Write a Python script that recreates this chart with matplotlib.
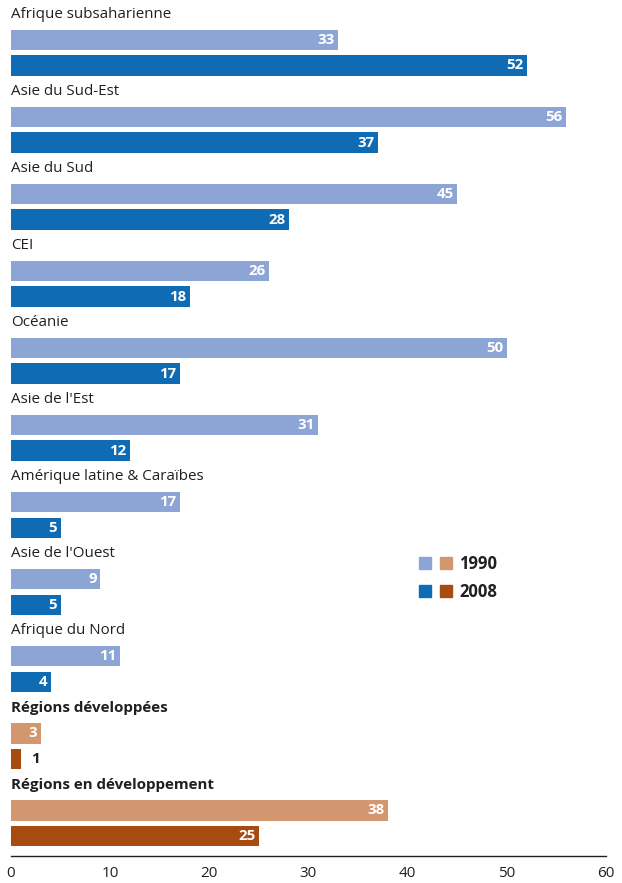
import matplotlib
matplotlib.use("Agg")
import matplotlib.pyplot as plt
from matplotlib.patches import Rectangle

regions = ["Afrique subsaharienne", "Asie du Sud-Est", "Asie du Sud", "CEI", "Océanie",
           "Asie de l'Est", "Amérique latine & Caraïbes", "Asie de l'Ouest", "Afrique du Nord",
           "Régions développées", "Régions en développement"]
v1990 = [33, 56, 45, 26, 50, 31, 17, 9, 11, 3, 38]
v2008 = [52, 37, 28, 18, 17, 12, 5, 5, 4, 1, 25]
aggregate = [False]*9 + [True, True]
xticks = [0, 10, 20, 30, 40, 50, 60]

c90, c08 = "#8da5d5", "#0e6bb4"
a90, a08 = "#d3976f", "#a84b10"

plt.rcParams['font.family'] = ['Open Sans', 'DejaVu Sans']

fig = plt.figure(figsize=(6.22, 8.83), dpi=100)
ax = fig.add_axes([11/622, 27/883, 595/622, 856/883])

bh = 0.8
for i, name in enumerate(regions):
    y0 = i*3
    agg = aggregate[i]
    ax.text(0, y0, name, ha='left', va='center', fontsize=10.9,
            fontweight='bold' if agg else 'normal', color='#231f20')
    for k, (v, col) in enumerate([(v1990[i], a90 if agg else c90), (v2008[i], a08 if agg else c08)]):
        y = y0 + 1 + k
        ax.barh(y, v, height=bh, color=col, left=0)
        if v >= 2:
            ax.text(v - 0.35, y, str(v), ha='right', va='center', fontsize=10.8,
                    fontweight='bold', color='white')
        else:
            ax.text(v + 1.0, y, str(v), ha='left', va='center', fontsize=10.8,
                    fontweight='bold', color='#231f20')

ax.set_xlim(0, 60)
ax.set_ylim(32.78, -0.55)
ax.set_xticks(xticks)
ax.set_xticklabels([str(t) for t in xticks], fontsize=11, color='#231f20')
ax.tick_params(axis='x', length=0, pad=7)
ax.set_yticks([])
for s in ['top', 'right', 'left']:
    ax.spines[s].set_visible(False)
ax.spines['bottom'].set_color('#231f20')
ax.spines['bottom'].set_linewidth(1.0)

# legend
def fx(px):
    return px/622
def fy(py):
    return 1 - py/883
sq = 12
for row, (lab, ca, cb, cy) in enumerate([("1990", c90, a90, 563), ("2008", c08, a08, 591)]):
    for x0, col in [(419, ca), (440, cb)]:
        fig.patches.append(Rectangle((fx(x0), fy(cy + sq/2)), sq/622, sq/883,
                                     transform=fig.transFigure, color=col))
    fig.text(fx(459), fy(cy + 1), lab, ha='left', va='center', fontsize=12,
             fontweight='bold', color='#231f20')

fig.savefig("out.png", dpi=100)
